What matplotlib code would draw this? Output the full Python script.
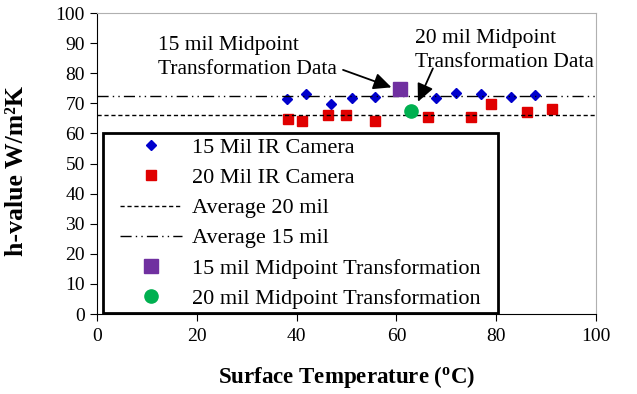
import matplotlib.pyplot as plt
from matplotlib.patches import Rectangle

plt.rcParams['font.family'] = ['Liberation Serif', 'DejaVu Serif']

# 15 mil IR camera data
t15 = [38.0, 41.9, 46.8, 51.0, 55.8, 67.9, 71.9, 76.9, 82.9, 87.8]
h15 = [71.3, 73.0, 69.7, 71.7, 72.0, 71.9, 73.3, 73.0, 72.0, 72.7]
# 20 mil IR camera data
t20 = [38.3, 41.1, 46.2, 49.8, 55.8, 66.3, 74.9, 78.9, 86.1, 91.1]
h20 = [64.8, 64.2, 66.0, 66.0, 64.2, 65.3, 65.3, 69.8, 67.2, 68.0]
avg20 = 66.0
avg15 = 72.3
mid15 = (60.8, 74.6)
mid20 = (62.9, 67.5)

fig = plt.figure(figsize=(6.37, 3.94), dpi=100)
ax = fig.add_axes([0.152, 0.203, 0.784, 0.764])

ax.plot(t15, h15, 'D', color='#0000cc', ms=5, ls='none', label='15 Mil IR Camera')
ax.plot(t20, h20, 's', color='#e00000', ms=6.5, ls='none', label='20 Mil IR Camera')
ax.axhline(avg20, color='black', lw=1, ls=(0, (3, 2)), label='Average 20 mil')
ax.axhline(avg15, color='black', lw=1, ls=(0, (8, 3, 1, 3, 1, 3)), label='Average 15 mil')
ax.plot([mid15[0]], [mid15[1]], 's', color='#7030a0', ms=9.5, ls='none',
        label='15 mil Midpoint Transformation')
ax.plot([mid20[0]], [mid20[1]], 'o', color='#00b050', ms=9.5, ls='none',
        label='20 mil Midpoint Transformation')

# callouts
ax.text(12.2, 85.2, '15 mil Midpoint\nTransformation Data', fontsize=15.5,
        ha='left', va='center', linespacing=1.35)
ax.text(63.7, 87.6, '20 mil Midpoint\nTransformation Data', fontsize=15.5,
        ha='left', va='center', linespacing=1.35)
arrow = dict(arrowstyle='-|>,head_length=0.6,head_width=0.28', color='black',
             lw=1.3, mutation_scale=18, shrinkA=0, shrinkB=0)
ax.annotate('', xy=(59.0, 75.3), xytext=(49.3, 81.1), arrowprops=arrow)
ax.annotate('', xy=(64.3, 70.5), xytext=(67.3, 81.6), arrowprops=arrow)

ax.set_xlim(0, 100)
ax.set_ylim(0, 100)
ax.set_xticks(range(0, 101, 20))
ax.set_yticks(range(0, 101, 10))
ax.tick_params(direction='out', labelsize=14, length=5)
ax.tick_params(axis='x', pad=5)
for s in ['top', 'right']:
    ax.spines[s].set_color('#b0b0b0')

ax.set_xlabel('Surface Temperature ($\\mathregular{^o}$C)', fontsize=16.5,
              fontweight='bold', labelpad=14)
ax.set_ylabel('h-value W/m\u00b2K', fontsize=18.5, fontweight='bold')
ax.yaxis.set_label_coords(-0.138, 0.475)

# legend box
ax.add_patch(Rectangle((0.012, 0.003), 0.792, 0.598, transform=ax.transAxes,
                       facecolor='white', edgecolor='black', lw=2, zorder=4.5))
leg = ax.legend(loc='upper left', bbox_to_anchor=(0.037, 0.601), fontsize=16,
                frameon=False, handlelength=2.8, labelspacing=0.43, borderpad=0.2,
                handletextpad=0.45, borderaxespad=0)
leg.set_zorder(5)

fig.savefig('out.png', dpi=100)
